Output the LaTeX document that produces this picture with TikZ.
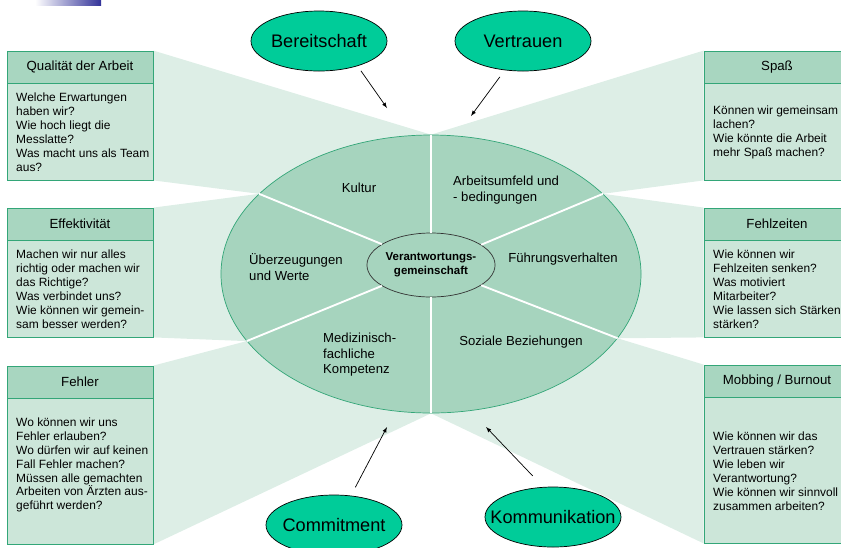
\documentclass[tikz,border=0pt]{standalone}
\usepackage{fontspec}
\setmainfont{Liberation Sans}
\usetikzlibrary{shapes.geometric,arrows,backgrounds}

\definecolor{faecher}{RGB}{221,238,230}
\definecolor{feld}{RGB}{204,230,217}
\definecolor{kopfgruen}{RGB}{168,214,192}
\definecolor{rand}{RGB}{51,166,120}
\definecolor{kreisgruen}{RGB}{166,212,190}
\definecolor{ovalgruen}{RGB}{0,204,153}
\definecolor{balken}{RGB}{51,51,153}

\tikzset{
  kasten/.style={draw=rand, fill=feld, line width=0.7pt, minimum width=4.38cm, inner sep=0pt},
  kopf/.style={draw=rand, fill=kopfgruen, line width=0.7pt, minimum width=4.38cm, minimum height=0.96cm,
    inner sep=0pt, anchor=north, font=\fontsize{11.3}{13}\selectfont},
  frage/.style={anchor=west, align=left, inner sep=0pt, font=\fontsize{10.2}{11.9}\selectfont},
  feldtext/.style={align=left, inner sep=0pt, font=\fontsize{11.2}{13.3}\selectfont},
  wert/.style={ellipse, draw=black, fill=ovalgruen, line width=0.6pt, minimum width=4.08cm,
    minimum height=1.8cm, inner xsep=-14pt, inner ysep=0pt, font=\fontsize{15.5}{18}\selectfont},
  trenner/.style={white, line width=1.6pt},
  pfeil/.style={-latex, black, line width=0.6pt}
}

\begin{document}
\begin{tikzpicture}[x=0.03cm,y=-0.03cm]

\useasboundingbox (0,0) rectangle (841,547);
\clip (0,0) rectangle (841,547);

\shade[left color=white, right color=balken] (35,0) rectangle (101,5);

% Kasten links und rechts
\node[kasten, minimum height=3.87cm] (qual)    at (80,115.5) {};
\node[kasten, minimum height=3.87cm] (effekt)  at (80,272.5) {};
\node[kasten, minimum height=5.34cm] (fehler)  at (80,455) {};
\node[kasten, minimum height=3.87cm] (spass)   at (777,115.5) {};
\node[kasten, minimum height=3.87cm] (fehlz)   at (777,272.5) {};
\node[kasten, minimum height=5.34cm] (mobbing) at (777,454) {};

\node[kopf] (qualkopf)    at (qual.north)    {Qualität der Arbeit};
\node[kopf] (effektkopf)  at (effekt.north)  {Effektivität};
\node[kopf] (fehlerkopf)  at (fehler.north)  {Fehler};
\node[kopf] (spasskopf)   at (spass.north)   {Spaß};
\node[kopf] (fehlzkopf)   at (fehlz.north)   {Fehlzeiten};
\node[kopf] (mobbingkopf) at (mobbing.north) {Mobbing / Burnout};

\node[frage] (qualtext) at (16,132) {Welche Erwartungen\\haben wir?\\Wie hoch liegt die\\Messlatte?\\Was macht uns als Team\\aus?};
\node[frage] (effekttext) at (16,289) {Machen wir nur alles\\richtig oder machen wir\\das Richtige?\\Was verbindet uns?\\Wie können wir gemein-\\sam besser werden?};
\node[frage] (fehlertext) at (16,465) {Wo können wir uns\\Fehler erlauben?\\Wo dürfen wir auf keinen\\Fall Fehler machen?\\Müssen alle gemachten\\Arbeiten von Ärzten aus-\\geführt werden?};
\node[frage] (spasstext) at (713,132) {Können wir gemeinsam\\lachen?\\Wie könnte die Arbeit\\mehr Spaß machen?};
\node[frage] (fehlztext) at (713,289) {Wie können wir\\Fehlzeiten senken?\\Was motiviert\\Mitarbeiter?\\Wie lassen sich Stärken\\stärken?};
\node[frage] (mobbingtext) at (713,471) {Wie können wir das\\Vertrauen stärken?\\Wie leben wir\\Verantwortung?\\Wie können wir sinnvoll\\zusammen arbeiten?};

% grosser Kreis
\node[ellipse, draw=rand, fill=kreisgruen, line width=0.6pt, minimum width=12.6cm,
  minimum height=8.34cm, inner sep=0pt] (kreis) at (431,274) {};

% Faecher hinter Kreis und Kasten
\begin{scope}[on background layer]
  \fill[faecher] (qual.north east) -- (kreis.north) -- (kreis.155.3) -- (qual.south east) -- cycle;
  \fill[faecher] (effekt.north east) -- (kreis.155.3) -- (kreis.200.4) -- (effekt.south east) -- cycle;
  \fill[faecher] (fehler.north east) -- (kreis.200.4) -- (kreis.south) -- (fehler.south east) -- cycle;
  \fill[faecher] (spass.north west) -- (kreis.north) -- (kreis.25.6) -- (spass.south west) -- cycle;
  \fill[faecher] (fehlz.north west) -- (kreis.25.6) -- (kreis.-19.9) -- (fehlz.south west) -- cycle;
  \fill[faecher] (mobbing.north west) -- (kreis.-19.9) -- (kreis.south) -- (mobbing.south west) -- cycle;
\end{scope}

\node[ellipse, draw=black!80, fill=kreisgruen, line width=0.6pt, minimum width=3.06cm,
  minimum height=1.92cm, inner sep=0pt, align=center,
  font=\bfseries\fontsize{9.8}{11.6}\selectfont] (mitte) at (431,265) {Verantwortungs-\\gemeinschaft};

% Trennlinien
\draw[trenner] (kreis.north) -- (mitte.north);
\draw[trenner] (mitte.south) -- (kreis.south);
\draw[trenner] (kreis.155.3) -- (mitte.157.7);
\draw[trenner] (kreis.25.6) -- (mitte.22.4);
\draw[trenner] (kreis.200.4) -- (mitte.203.8);
\draw[trenner] (kreis.-19.9) -- (mitte.-22.9);

\node[feldtext] (kultur) at (359,188) {Kultur};
\node[feldtext, anchor=west] (umfeld) at (453,190) {Arbeitsumfeld und\\- bedingungen};
\node[feldtext, anchor=west] (werte) at (249,267) {Überzeugungen\\und Werte};
\node[feldtext] (fuehrung) at (563,259) {Führungsverhalten};
\node[feldtext, anchor=west] (kompetenz) at (323,355) {Medizinisch-\\fachliche\\Kompetenz};
\node[feldtext] (sozial) at (521,342) {Soziale Beziehungen};

% Werte aussen
\node[wert] (bereit)   at (319,41)  {Bereitschaft};
\node[wert] (vertrauen) at (523,41) {Vertrauen};
\node[wert] (commit)   at (334,525) {Commitment};
\node[wert] (kommu)    at (553,517) {Kommunikation};

\coordinate (spitzeB) at (387,108);
\coordinate (spitzeV) at (471,116);
\coordinate (spitzeC) at (387,427);
\coordinate (spitzeK) at (486,427);

\draw[pfeil, shorten <=5pt]  (bereit.-33)    -- (spitzeB);
\draw[pfeil, shorten <=7pt]  (vertrauen.-122) -- (spitzeV);
\draw[pfeil, shorten <=8pt]  (commit.60)     -- (spitzeC);
\draw[pfeil, shorten <=13pt] (kommu.108)     -- (spitzeK);

\end{tikzpicture}
\end{document}
